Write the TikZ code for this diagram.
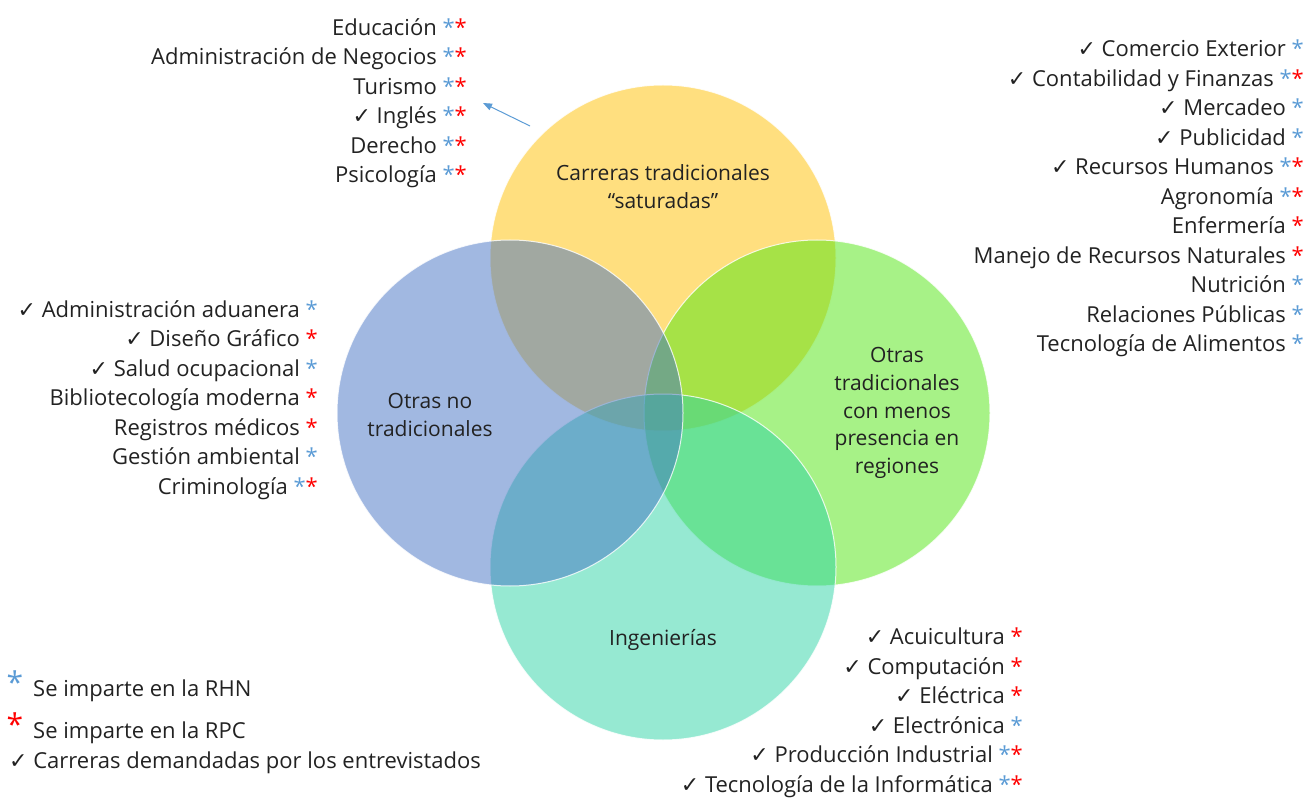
\documentclass[tikz,border=0pt]{standalone}
\usepackage{fontspec}
\setmainfont{Open Sans}
\newfontfamily\symfont{DejaVu Sans}
\usetikzlibrary{positioning,arrows.meta}
\definecolor{satyellow}{HTML}{FFC000}
\definecolor{otrblue}{HTML}{4472C4}
\definecolor{tradgreen}{HTML}{4FE50F}
\definecolor{ingteal}{HTML}{2DD3A5}
\definecolor{starblue}{HTML}{5B9BD5}
\definecolor{starred}{HTML}{FF0000}
\definecolor{txtgray}{HTML}{222222}
\newcommand{\ck}{{\symfont\char"2713}\ }
\newcommand{\bst}{{\color{starblue}*}}
\newcommand{\rst}{{\color{starred}*}}

\begin{document}
\begin{tikzpicture}[
    x=1pt, y=-1pt,
    font=\fontsize{22}{29.5}\selectfont,
    text=txtgray,
    venn/.style={
        circle, draw=white, line width=1pt, draw opacity=0.8,
        fill opacity=0.5, minimum size=346pt, inner sep=0pt
    },
    lbl/.style={align=center, inner sep=0pt, font=\fontsize{21}{27.8}\selectfont},
    lst/.style={align=right, inner sep=0pt, anchor=base east},
    legstar/.style={inner sep=0pt, font=\fontsize{30}{30}\selectfont},
]
\useasboundingbox (0,0) rectangle (1306,799);

% ===============================
%            circles
% ===============================

\node[venn, fill=satyellow] (sat) at (663,258) {};
\node[venn, fill=tradgreen] (trad) at (817,413) {};
\node[venn, fill=ingteal] (ing) at (663,567) {};
\node[venn, fill=otrblue] (otr) at (510,413) {};

% ===============================
%         circle labels
% ===============================

\node[lbl] (satlbl) at (663,187) {Carreras tradicionales\\“saturadas”};
\node[lbl] (otrlbl) at (430,415) {Otras no\\tradicionales};
\node[lbl] (tradlbl) at (897,413) {Otras\\tradicionales\\con menos\\presencia en\\regiones};
\node[lbl] (inglbl) at (663,640) {Ingenierías};

% ===============================
%     lists (anchored at last line)
% ===============================

\node[lst] (satlist) at (467,183) {
    Educación \bst\rst\\
    Administración de Negocios \bst\rst\\
    Turismo \bst\rst\\
    \ck Inglés \bst\rst\\
    Derecho \bst\rst\\
    Psicología \bst\rst};

\node[lst] (tradlist) at (1304,352) {
    \ck Comercio Exterior \bst\\
    \ck Contabilidad y Finanzas \bst\rst\\
    \ck Mercadeo \bst\\
    \ck Publicidad \bst\\
    \ck Recursos Humanos \bst\rst\\
    Agronomía \bst\rst\\
    Enfermería \rst\\
    Manejo de Recursos Naturales \rst\\
    Nutrición \bst\\
    Relaciones Públicas \bst\\
    Tecnología de Alimentos \bst};

\node[lst] (otrlist) at (318,494) {
    \ck Administración aduanera \bst\\
    \ck Diseño Gráfico \rst\\
    \ck Salud ocupacional \bst\\
    Bibliotecología moderna \rst\\
    Registros médicos \rst\\
    Gestión ambiental \bst\\
    Criminología \bst\rst};

\node[lst] (inglist) at (1023,792) {
    \ck Acuicultura \rst\\
    \ck Computación \rst\\
    \ck Eléctrica \rst\\
    \ck Electrónica \bst\\
    \ck Producción Industrial \bst\rst\\
    \ck Tecnología de la Informática \bst\rst};

% ===============================
%             legend
% ===============================

\node[legstar, text=starblue] (bluestar) at (15,682) {*};
\node[legstar, text=starred] (redstar) at (15,724) {*};
\node[inner sep=0pt, anchor=base west] (rhn) at (33,696) {Se imparte en la RHN};
\node[inner sep=0pt, anchor=base west] (rpc) at (33,738) {Se imparte en la RPC};
\node[inner sep=0pt, anchor=base west] (dem) at (9,768) {\ck Carreras demandadas por los entrevistados};

% ===============================
%             arrow
% ===============================

\coordinate (arrtail) at (530,126);
\coordinate (arrhead) at (483,103);
\draw[-{Triangle[length=9pt,width=7pt]}, starblue, line width=1pt] (arrtail) -- (arrhead);

\end{tikzpicture}
\end{document}
